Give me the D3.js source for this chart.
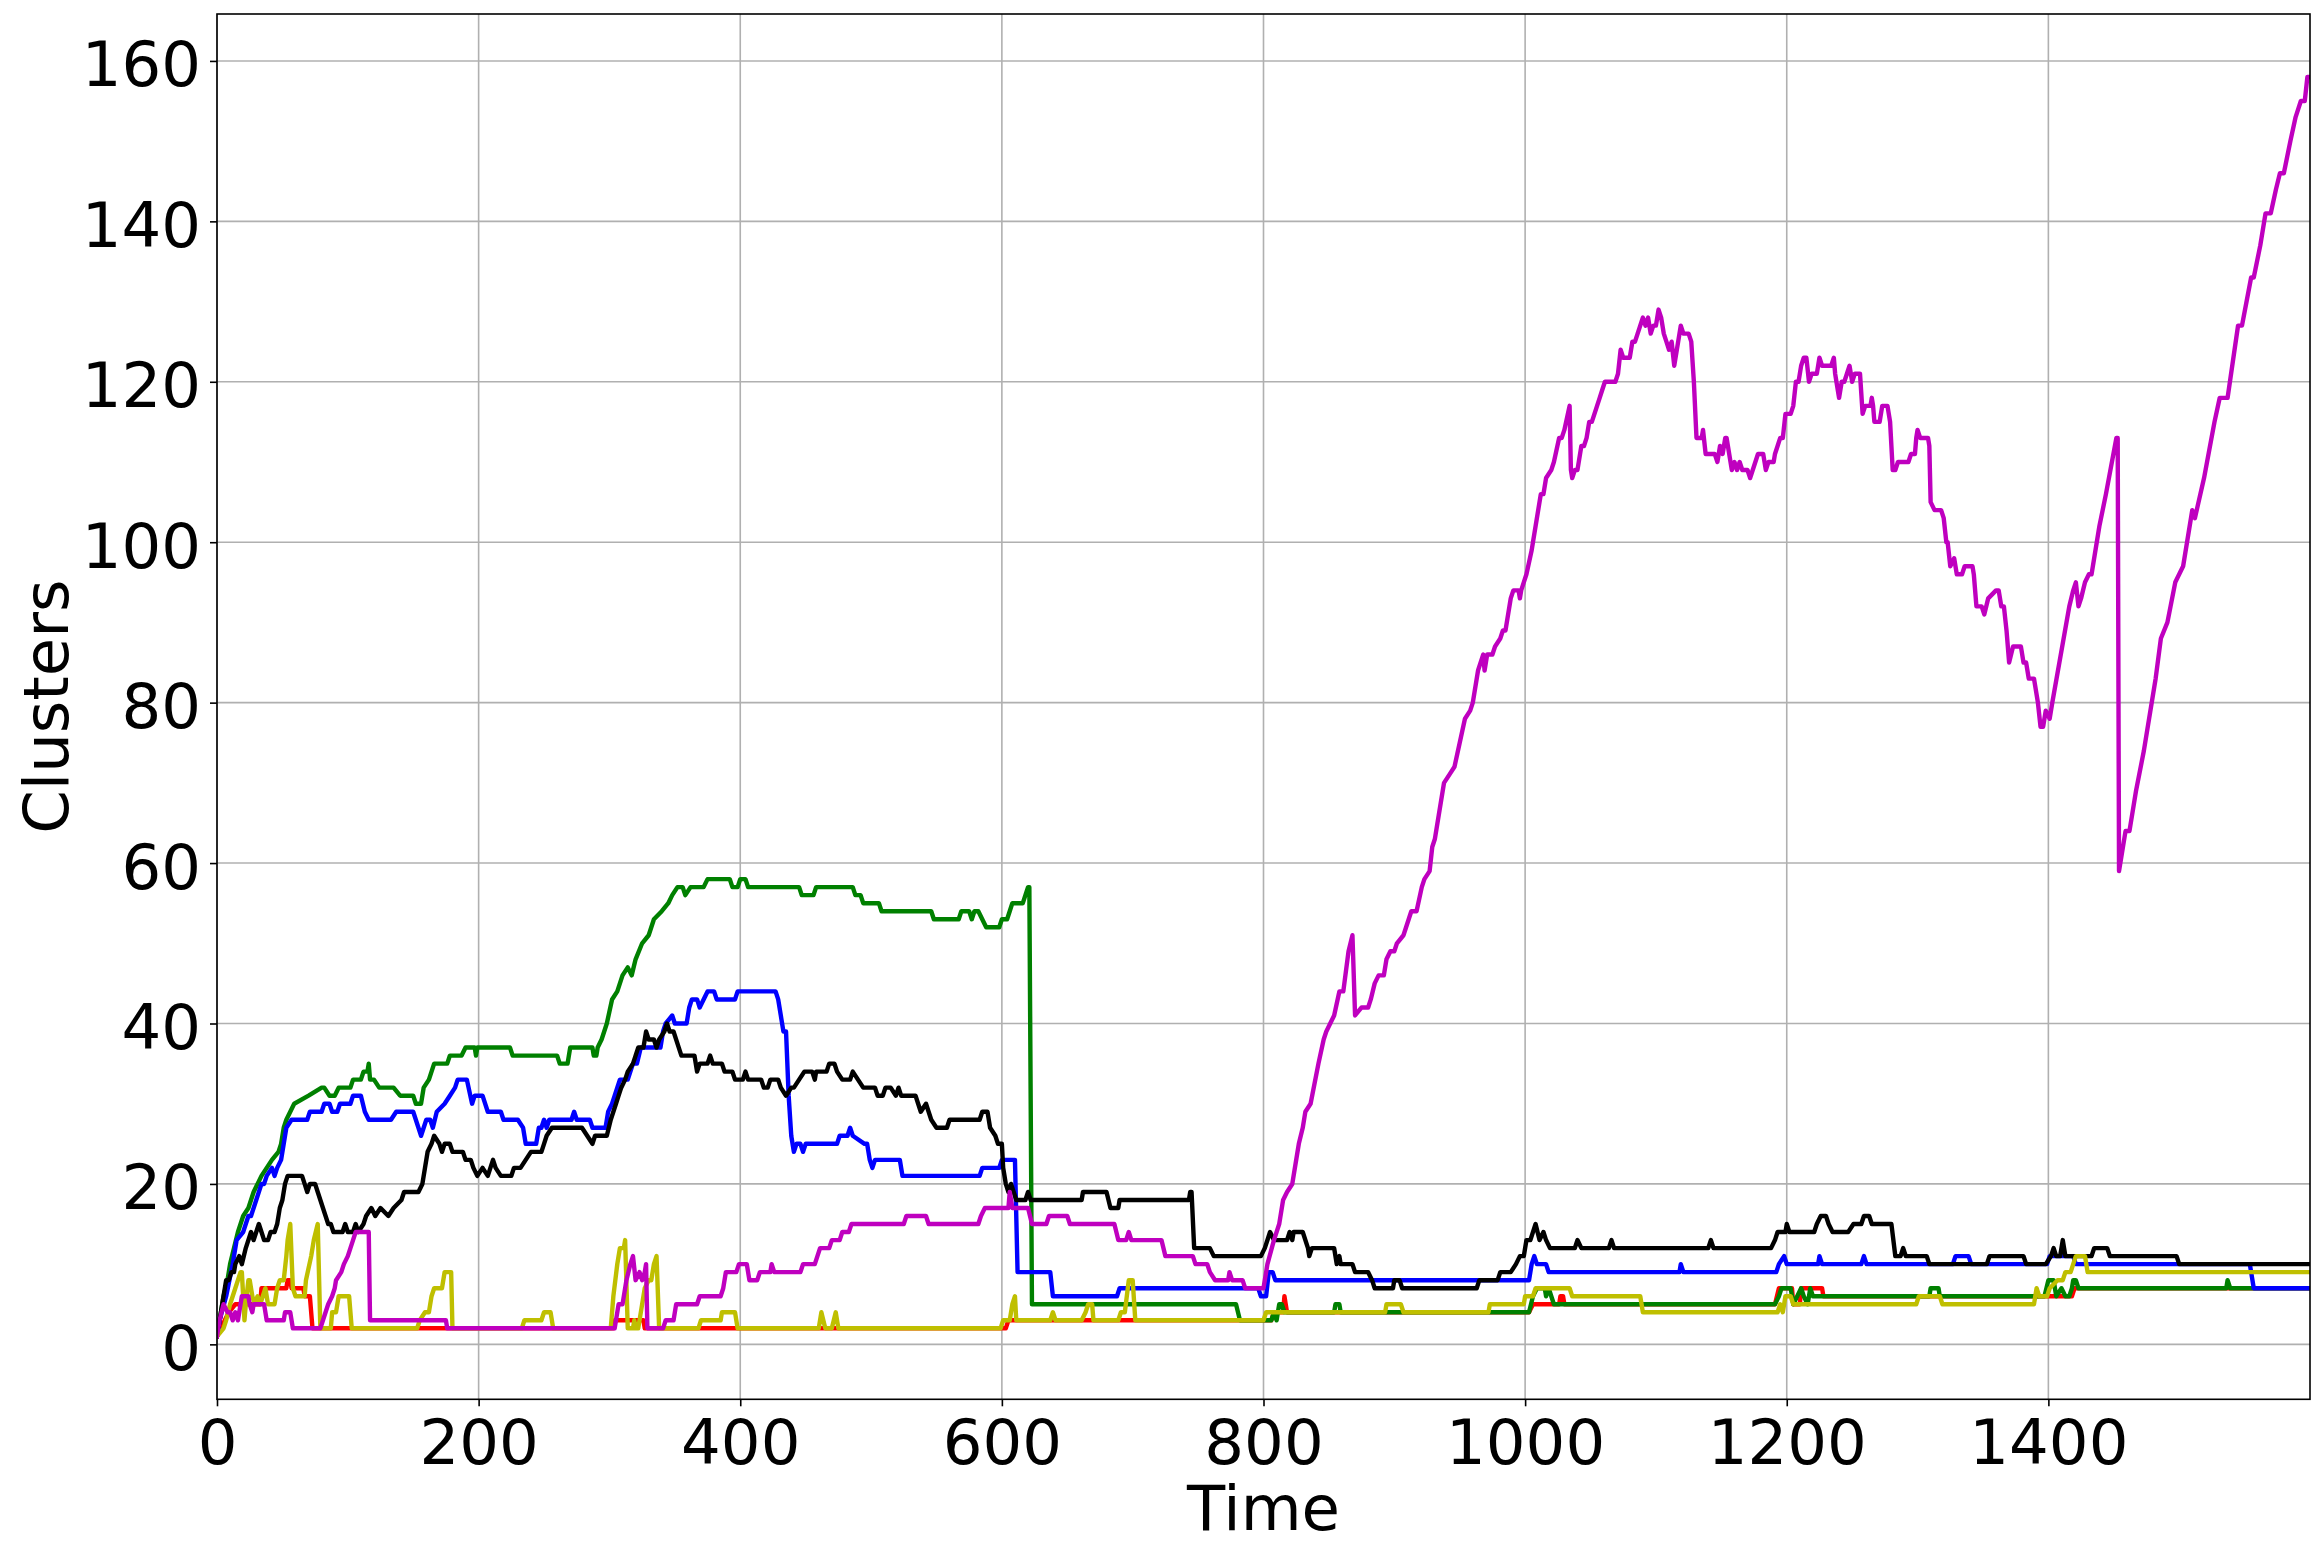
<!DOCTYPE html>
<html>
<head>
<meta charset="utf-8">
<script src="https://cdn.jsdelivr.net/npm/d3@7"></script>
<style>
  html, body { margin: 0; padding: 0; background: #ffffff; }
  svg { display: block; }
</style>
</head>
<body>
<svg id="chart" width="2324" height="1558"></svg>
<script>
// ---------------- data ----------------
const timeTicks = [0, 200, 400, 600, 800, 1000, 1200, 1400];
const clusterTicks = [0, 20, 40, 60, 80, 100, 120, 140, 160];
const xLabel = "Time";
const yLabel = "Clusters";

// each series: [time, clusters] vertices
const seriesRed = [[0,1],[3,2],[6,3],[9,4],[14,5],[33,5],[34,7],[53,7],[54,8],[56,8],[57,7],[66,7],[67,6],[71,6],[73,2],[303,2],[304,3],[326,3],[327,2],[603,2],[605,3],[806,3],[808,4],[815,4],[816,6],[817,5],[818,4],[1003,4],[1006,5],[1026,5],[1027,6],[1029,6],[1030,5],[1191,5],[1194,7],[1204,7],[1205,5],[1210,5],[1211,7],[1227,7],[1228,6],[1418,6],[1420,7],[1599,7]];

const seriesGreen = [[0,1],[2,3],[5,6],[8,8],[10,10],[13,12],[16,14],[20,16],[24,17],[28,19],[34,21],[38,22],[42,23],[47,24],[49,25],[51,27],[53,28],[56,29],[59,30],[70,31],[80,32],[82,32],[86,31],[90,31],[93,32],[102,32],[104,33],[110,33],[112,34],[115,34],[116,35],[117,33],[120,33],[124,32],[135,32],[140,31],[150,31],[152,30],[156,30],[158,32],[162,33],[166,35],[176,35],[178,36],[187,36],[190,37],[197,37],[198,36],[199,37],[224,37],[226,36],[260,36],[262,35],[268,35],[270,37],[287,37],[288,36],[290,36],[291,37],[294,38],[298,40],[302,43],[306,44],[310,46],[314,47],[317,46],[320,48],[325,50],[330,51],[334,53],[340,54],[345,55],[348,56],[352,57],[356,57],[358,56],[362,57],[372,57],[375,58],[392,58],[394,57],[398,57],[400,58],[404,58],[406,57],[445,57],[447,56],[456,56],[458,57],[486,57],[488,56],[492,56],[494,55],[506,55],[508,54],[546,54],[548,53],[567,53],[569,54],[575,54],[577,53],[579,54],[582,54],[588,52],[598,52],[600,53],[604,53],[606,54],[608,55],[616,55],[618,56],[620,57],[621,57],[623,5],[779,5],[782,3],[806,3],[808,4],[810,3],[812,5],[814,5],[816,4],[854,4],[855,5],[858,5],[859,4],[1003,4],[1006,6],[1009,7],[1015,7],[1016,6],[1018,7],[1020,6],[1022,5],[1191,5],[1194,6],[1196,7],[1203,7],[1205,5],[1208,6],[1211,7],[1213,6],[1216,5],[1218,7],[1220,6],[1309,6],[1310,7],[1316,7],[1317,6],[1397,6],[1400,8],[1404,8],[1406,6],[1410,7],[1413,6],[1416,6],[1418,7],[1419,8],[1421,8],[1423,7],[1536,7],[1537,8],[1539,7],[1599,7]];

const seriesBlue = [[0,1],[2,3],[7,6],[12,10],[15,13],[20,14],[24,16],[26,16],[30,18],[34,20],[36,20],[38,21],[42,22],[44,21],[46,22],[49,23],[51,25],[53,27],[57,28],[69,28],[71,29],[80,29],[82,30],[86,30],[88,29],[92,29],[94,30],[102,30],[104,31],[110,31],[113,29],[116,28],[133,28],[137,29],[150,29],[154,27],[156,26],[158,27],[160,28],[163,28],[165,27],[168,29],[174,30],[178,31],[182,32],[184,33],[191,33],[195,30],[197,31],[203,31],[207,29],[217,29],[219,28],[230,28],[234,27],[236,25],[244,25],[246,27],[248,27],[250,28],[252,27],[254,28],[271,28],[273,29],[275,28],[285,28],[287,27],[297,27],[299,29],[302,30],[304,31],[306,32],[308,33],[314,33],[316,34],[318,35],[321,35],[324,37],[339,37],[341,39],[343,40],[348,41],[350,40],[359,40],[361,42],[363,43],[367,43],[369,42],[372,43],[375,44],[380,44],[382,43],[396,43],[398,44],[427,44],[429,43],[431,41],[433,39],[435,39],[437,31],[439,26],[441,24],[443,25],[446,25],[448,24],[450,25],[474,25],[476,26],[482,26],[484,27],[486,26],[495,25],[497,25],[499,23],[501,22],[503,23],[522,23],[524,21],[583,21],[585,22],[598,22],[600,23],[610,23],[612,9],[637,9],[639,6],[688,6],[690,7],[796,7],[798,6],[802,6],[804,9],[807,9],[809,8],[1003,8],[1005,10],[1007,11],[1009,10],[1016,10],[1018,9],[1118,9],[1119,10],[1121,9],[1192,9],[1194,10],[1198,11],[1200,10],[1224,10],[1225,11],[1227,10],[1257,10],[1259,11],[1261,10],[1327,10],[1329,11],[1339,11],[1341,10],[1399,10],[1401,11],[1419,11],[1421,10],[1554,10],[1557,7],[1599,7]];

const seriesBlack = [[0,1],[2,3],[5,6],[7,8],[9,8],[11,9],[13,9],[14,10],[17,11],[19,10],[22,12],[26,14],[28,13],[30,14],[32,15],[34,14],[36,13],[39,13],[41,14],[44,14],[46,15],[48,17],[50,18],[52,20],[54,21],[65,21],[67,20],[69,19],[71,20],[75,20],[77,19],[79,18],[81,17],[83,16],[85,15],[87,15],[89,14],[96,14],[98,15],[100,14],[104,14],[106,15],[108,14],[112,15],[114,16],[118,17],[121,16],[125,17],[131,16],[135,17],[141,18],[143,19],[154,19],[157,20],[159,22],[161,24],[164,25],[166,26],[170,25],[172,24],[174,25],[178,25],[180,24],[188,24],[190,23],[194,23],[196,22],[199,21],[203,22],[207,21],[211,23],[213,22],[217,21],[225,21],[227,22],[232,22],[236,23],[240,24],[248,24],[250,25],[252,26],[256,27],[279,27],[283,26],[287,25],[289,26],[298,26],[301,28],[305,30],[307,31],[309,32],[312,33],[314,34],[318,35],[320,36],[322,37],[326,37],[328,39],[330,38],[334,38],[336,37],[338,38],[342,39],[344,40],[346,39],[349,39],[353,37],[355,36],[365,36],[367,34],[369,35],[375,35],[377,36],[379,35],[386,35],[388,34],[394,34],[396,33],[402,33],[404,34],[406,33],[416,33],[418,32],[421,32],[423,33],[429,33],[431,32],[435,31],[439,32],[441,32],[445,33],[449,34],[455,34],[457,33],[458,34],[466,34],[468,35],[472,35],[474,34],[478,33],[484,33],[486,34],[490,33],[494,32],[503,32],[505,31],[509,31],[511,32],[515,32],[519,31],[521,32],[523,31],[534,31],[536,30],[538,29],[542,30],[544,29],[546,28],[550,27],[558,27],[560,28],[583,28],[585,29],[589,29],[591,27],[595,26],[597,25],[600,25],[601,22],[603,20],[605,19],[607,20],[609,19],[611,18],[618,18],[620,19],[622,18],[661,18],[662,19],[680,19],[683,17],[689,17],[690,18],[743,18],[744,19],[745,19],[747,12],[759,12],[762,11],[798,11],[801,12],[805,14],[808,13],[818,13],[820,14],[822,13],[823,14],[830,14],[834,12],[835,11],[837,12],[854,12],[856,10],[858,11],[859,10],[868,10],[870,9],[880,9],[883,8],[885,7],[899,7],[900,8],[904,8],[906,7],[963,7],[965,8],[979,8],[981,9],[989,9],[993,10],[996,11],[999,11],[1001,13],[1004,13],[1008,15],[1011,13],[1014,14],[1016,13],[1019,12],[1038,12],[1040,13],[1043,12],[1064,12],[1066,13],[1068,12],[1140,12],[1142,13],[1144,12],[1188,12],[1191,13],[1193,14],[1199,14],[1200,15],[1202,14],[1221,14],[1223,15],[1226,16],[1230,16],[1232,15],[1235,14],[1247,14],[1251,15],[1257,15],[1259,16],[1263,16],[1265,15],[1280,15],[1283,11],[1287,11],[1289,12],[1291,11],[1307,11],[1309,10],[1353,10],[1355,11],[1381,11],[1383,10],[1398,10],[1402,11],[1404,12],[1406,11],[1409,11],[1411,13],[1413,11],[1433,11],[1435,12],[1445,12],[1447,11],[1498,11],[1500,10],[1599,10]];

const seriesYellow = [[0,1],[5,2],[7,3],[10,5],[12,6],[14,7],[16,8],[18,9],[19,9],[20,6],[21,3],[22,5],[24,8],[25,8],[27,6],[29,5],[31,6],[33,5],[35,6],[37,7],[39,5],[44,5],[46,7],[48,8],[51,8],[53,11],[54,13],[56,15],[58,7],[60,6],[67,6],[68,8],[72,11],[74,13],[77,15],[79,2],[87,2],[88,4],[91,4],[93,6],[101,6],[103,2],[153,2],[155,3],[159,4],[162,4],[164,6],[166,7],[172,7],[174,9],[179,9],[180,2],[233,2],[235,3],[248,3],[250,4],[255,4],[257,2],[301,2],[303,6],[306,10],[308,12],[311,12],[312,13],[314,2],[318,2],[319,3],[320,2],[322,2],[324,4],[327,7],[330,8],[332,8],[334,10],[336,11],[338,2],[368,2],[370,3],[385,3],[386,4],[396,4],[398,2],[460,2],[462,4],[465,2],[470,2],[473,4],[475,2],[599,2],[601,3],[606,3],[608,5],[610,6],[611,3],[637,3],[639,4],[641,3],[661,3],[664,4],[666,5],[669,5],[670,3],[689,3],[691,4],[694,4],[697,8],[700,8],[702,3],[800,3],[802,4],[893,4],[894,5],[905,5],[907,4],[972,4],[973,5],[999,5],[1000,6],[1006,6],[1008,7],[1034,7],[1036,6],[1088,6],[1090,4],[1193,4],[1195,5],[1197,4],[1199,6],[1203,6],[1205,5],[1299,5],[1301,6],[1317,6],[1319,5],[1389,5],[1391,7],[1393,6],[1399,6],[1401,7],[1407,8],[1411,8],[1413,9],[1417,9],[1419,10],[1421,11],[1428,11],[1430,9],[1599,9]];

const seriesMagenta = [[0,1],[2,3],[5,5],[8,4],[10,4],[12,3],[14,4],[16,3],[18,5],[19,6],[24,6],[25,5],[27,4],[28,5],[36,5],[38,3],[51,3],[52,4],[56,4],[58,2],[79,2],[81,3],[83,4],[85,5],[88,6],[90,7],[91,8],[95,9],[97,10],[100,11],[102,12],[104,13],[106,14],[116,14],[117,3],[175,3],[176,2],[304,2],[307,5],[310,5],[313,8],[316,10],[318,11],[320,8],[323,9],[325,8],[327,9],[328,10],[329,2],[341,2],[343,3],[349,3],[351,5],[367,5],[369,6],[385,6],[387,7],[389,9],[397,9],[399,10],[405,10],[407,8],[413,8],[415,9],[423,9],[424,10],[426,9],[446,9],[448,10],[457,10],[459,11],[461,12],[468,12],[470,13],[476,13],[478,14],[483,14],[485,15],[525,15],[527,16],[542,16],[544,15],[582,15],[584,16],[587,17],[605,17],[606,19],[608,17],[620,17],[623,15],[634,15],[636,16],[650,16],[652,15],[686,15],[689,13],[695,13],[697,14],[699,13],[722,13],[725,11],[746,11],[748,10],[757,10],[759,9],[763,8],[773,8],[774,9],[776,8],[784,8],[786,7],[800,7],[803,10],[808,13],[812,15],[815,18],[818,19],[822,20],[827,25],[830,27],[832,29],[836,30],[842,35],[846,38],[848,39],[851,40],[854,41],[858,44],[861,44],[865,49],[868,51],[870,41],[875,42],[880,42],[882,43],[885,45],[888,46],[892,46],[894,48],[897,49],[900,49],[902,50],[907,51],[909,52],[911,53],[913,54],[917,54],[921,57],[923,58],[927,59],[929,62],[931,63],[934,66],[938,70],[942,71],[946,72],[950,75],[954,78],[958,79],[960,80],[964,84],[968,86],[969,84],[971,86],[975,86],[977,87],[981,88],[983,89],[985,89],[989,93],[991,94],[995,94],[996,93],[997,94],[1001,96],[1005,99],[1006,100],[1008,102],[1012,106],[1014,106],[1016,108],[1020,109],[1022,110],[1026,113],[1028,113],[1030,114],[1034,117],[1035,109],[1036,108],[1038,109],[1040,109],[1043,112],[1045,112],[1047,113],[1049,115],[1051,115],[1055,117],[1057,118],[1059,119],[1061,120],[1069,120],[1071,121],[1073,124],[1075,123],[1080,123],[1082,125],[1084,125],[1086,126],[1088,127],[1090,128],[1092,127],[1094,128],[1096,126],[1098,127],[1100,127],[1102,129],[1104,128],[1106,126],[1108,125],[1110,124],[1112,125],[1114,122],[1116,124],[1119,127],[1121,126],[1125,126],[1127,125],[1129,120],[1131,113],[1135,113],[1136,114],[1138,111],[1145,111],[1147,110],[1149,112],[1151,111],[1153,113],[1154,113],[1156,111],[1158,109],[1160,110],[1162,109],[1164,110],[1166,109],[1170,109],[1172,108],[1174,109],[1178,111],[1182,111],[1184,109],[1186,110],[1190,110],[1191,111],[1193,112],[1195,113],[1197,113],[1199,116],[1203,116],[1205,117],[1207,120],[1209,120],[1211,122],[1213,123],[1215,123],[1217,120],[1219,121],[1223,121],[1225,123],[1227,122],[1234,122],[1236,123],[1237,121],[1238,120],[1240,118],[1242,120],[1244,120],[1246,121],[1248,122],[1250,120],[1252,121],[1256,121],[1258,116],[1260,117],[1264,117],[1265,118],[1266,117],[1267,115],[1271,115],[1273,117],[1277,117],[1279,115],[1281,109],[1283,109],[1285,110],[1293,110],[1295,111],[1298,111],[1299,113],[1300,114],[1302,113],[1308,113],[1309,112],[1310,105],[1313,104],[1318,104],[1320,103],[1322,100],[1323,100],[1325,97],[1328,98],[1330,96],[1334,96],[1336,97],[1342,97],[1343,96],[1345,92],[1349,92],[1351,91],[1354,93],[1360,94],[1362,94],[1364,92],[1366,92],[1368,89],[1370,85],[1373,87],[1379,87],[1381,85],[1383,85],[1385,83],[1389,83],[1392,80],[1394,77],[1396,77],[1398,79],[1401,78],[1403,80],[1416,92],[1419,94],[1421,95],[1423,92],[1425,93],[1428,95],[1431,96],[1433,96],[1439,102],[1444,106],[1452,113],[1453,113],[1454,59],[1459,64],[1462,64],[1467,69],[1473,74],[1478,79],[1482,83],[1486,88],[1491,90],[1497,95],[1503,97],[1510,104],[1512,103],[1519,108],[1527,115],[1531,118],[1537,118],[1545,127],[1548,127],[1555,133],[1557,133],[1562,137],[1566,141],[1570,141],[1574,144],[1577,146],[1580,146],[1585,150],[1589,153],[1593,155],[1596,155],[1598,158],[1599,158]];

// drawing order (last on top)
const seriesList = [seriesRed, seriesGreen, seriesBlue, seriesBlack, seriesYellow, seriesMagenta];
// ---------------- styles ----------------
const seriesColors = ["#ff0000", "#008000", "#0000ff", "#000000", "#bfbf00", "#bf00bf"];
const FONT = "'DejaVu Sans', sans-serif";
const FS = 62.5;

const svg = d3.select("#chart");
const L = 217, R = 2310, T = 14, B = 1399.3;

const x = d3.scaleLinear().domain([0, 1600]).range([L, R]);
const y = d3.scaleLinear().domain([-6.85, 165.85]).range([B, T]);

svg.append("rect").attr("x", 0).attr("y", 0).attr("width", 2324).attr("height", 1558).attr("fill", "#ffffff");

// grid
const grid = svg.append("g").attr("stroke", "#b0b0b0").attr("stroke-width", 1.6);
grid.selectAll("line.gx").data(timeTicks).enter().append("line")
  .attr("x1", d => x(d)).attr("x2", d => x(d)).attr("y1", T).attr("y2", B);
grid.selectAll("line.gy").data(clusterTicks).enter().append("line")
  .attr("x1", L).attr("x2", R).attr("y1", d => y(d)).attr("y2", d => y(d));

// clip
svg.append("defs").append("clipPath").attr("id", "plotclip")
  .append("rect").attr("x", L).attr("y", T).attr("width", R - L).attr("height", B - T);

const line = d3.line().x(d => x(d[0])).y(d => y(d[1]));
const lines = svg.append("g").attr("clip-path", "url(#plotclip)");
seriesList.forEach((s, i) => {
  lines.append("path").datum(s)
    .attr("d", line)
    .attr("fill", "none")
    .attr("stroke", seriesColors[i])
    .attr("stroke-width", 4.4)
    .attr("stroke-linejoin", "round")
    .attr("stroke-linecap", "square");
});

// axes
const xAxis = d3.axisBottom(x).tickValues(timeTicks).tickSize(7).tickPadding(10).tickFormat(d3.format("d"));
const gx = svg.append("g").attr("transform", `translate(0,${B})`).call(xAxis);
gx.select(".domain").remove();
gx.selectAll(".tick line").attr("stroke", "#000").attr("stroke-width", 1.6);
gx.selectAll(".tick text").attr("font-family", FONT).attr("font-size", FS).attr("fill", "#000")
  .attr("y", 20).attr("dy", "0.71em");

const yAxis = d3.axisLeft(y).tickValues(clusterTicks).tickSize(7).tickPadding(9).tickFormat(d3.format("d"));
const gy = svg.append("g").attr("transform", `translate(${L},0)`).call(yAxis);
gy.select(".domain").remove();
gy.selectAll(".tick line").attr("stroke", "#000").attr("stroke-width", 1.6);
gy.selectAll(".tick text").attr("font-family", FONT).attr("font-size", FS).attr("fill", "#000")
  .attr("x", -16).attr("dy", "0.4em");

// frame
svg.append("rect").attr("x", L).attr("y", T).attr("width", R - L).attr("height", B - T)
  .attr("fill", "none").attr("stroke", "#000").attr("stroke-width", 1.6);

// labels
svg.append("text").attr("x", (L + R) / 2).attr("y", 1530)
  .attr("text-anchor", "middle").attr("font-family", FONT).attr("font-size", FS).attr("fill", "#000")
  .text(xLabel);
svg.append("text").attr("transform", `translate(68,${(T + B) / 2}) rotate(-90)`)
  .attr("text-anchor", "middle").attr("font-family", FONT).attr("font-size", FS).attr("fill", "#000")
  .text(yLabel);
</script>
</body>
</html>
